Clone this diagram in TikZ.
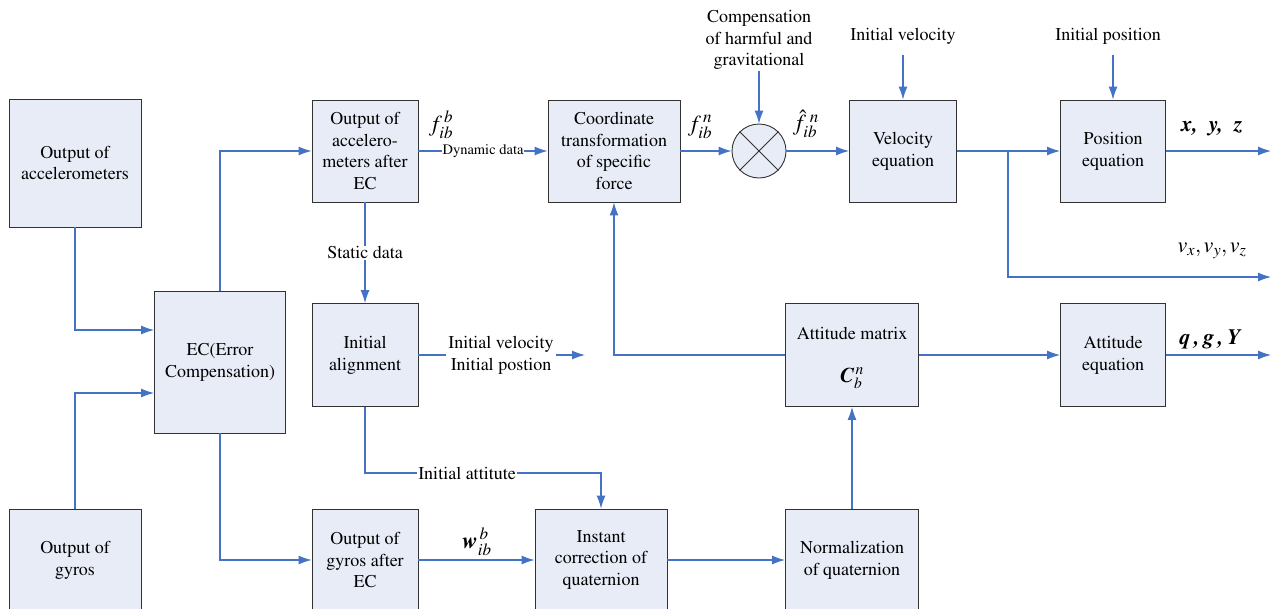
\documentclass[tikz,border=0pt]{standalone}
\usepackage{amsmath}
\usepackage[T1]{fontenc}
\usepackage{mathptmx}
\usetikzlibrary{arrows.meta}
\definecolor{ln}{RGB}{68,114,196}
\definecolor{bx}{RGB}{232,236,247}
\definecolor{bd}{RGB}{50,50,50}
\begin{document}
\begin{tikzpicture}[x=1pt,y=-1pt,
  box/.style={draw=bd, fill=bx, line width=0.9pt, inner sep=0pt, align=center,
    font=\fontsize{18}{21.7}\selectfont},
  conn/.style={draw=ln, line width=1.1pt, -{Latex[length=13pt,width=9pt]}},
  lbl/.style={font=\fontsize{18}{21.7}\selectfont, align=center, inner sep=1pt},
  mth/.style={font=\fontsize{23}{26}\selectfont, inner sep=0pt}]
\useasboundingbox (0,0) rectangle (1271,608);
% helper coordinates
\coordinate (h330) at (0,330);
\coordinate (h393) at (0,393);
\coordinate (h473) at (0,473);
\coordinate (h55) at (0,55);
\coordinate (j) at (1008,151);
\coordinate (iaend) at (585,355);
\coordinate (aeout) at (1271,355);
\coordinate (peout) at (1271,151);
\coordinate (vout) at (1271,277);
% boxes
\node[box, minimum width=132, minimum height=128] (acc) at (75,163) {Output of\\accelerometers};
\node[box, minimum width=132, minimum height=102] (gyr) at (75,560) {Output of\\gyros};
\node[box, minimum width=131, minimum height=142] (ec) at (220,362) {EC(Error\\Compensation)};
\node[box, minimum width=106, minimum height=102] (aec) at (365,151) {Output of\\accelero-\\meters after\\EC};
\node[box, minimum width=106, minimum height=103] (ia) at (365,355) {Initial\\alignment};
\node[box, minimum width=106, minimum height=102] (gec) at (365,560) {Output of\\gyros after\\EC};
\node[box, minimum width=132, minimum height=102] (ct) at (614,151) {Coordinate\\transformation\\of specific\\force};
\node[circle, draw=bd, fill=bx, line width=0.9pt, minimum size=54, inner sep=0pt] (sum) at (759,151) {};
\draw[bd, line width=0.9pt] (sum.north west) -- (sum.south east) (sum.north east) -- (sum.south west);
\node[box, minimum width=107, minimum height=102] (ve) at (903,151) {Velocity\\equation};
\node[box, minimum width=105, minimum height=102] (pe) at (1113,151) {Position\\equation};
\node[box, minimum width=133, minimum height=103] (am) at (852,355) {};
\node[lbl] (amt) at (852,333) {Attitude matrix};
\node[mth, font=\fontsize{21}{24}\selectfont] (amc) at (852,378) {$\text{\bfseries\itshape C}_{b}^{\,n}$};
\node[box, minimum width=105, minimum height=103] (ae) at (1113,355) {Attitude\\equation};
\node[box, minimum width=132, minimum height=102] (ic) at (601,560) {Instant\\correction of\\quaternion};
\node[box, minimum width=133, minimum height=102] (nq) at (852,560) {Normalization\\of quaternion};
% free labels
\node[lbl] (comp) at (759,40) {Compensation\\of harmful and\\gravitational};
\node[lbl] (iv) at (903,36) {Initial velocity};
\node[lbl] (ip) at (1108,36) {Initial position};
% connectors
\draw[conn] (acc.south) |- (ec.west |- h330);
\draw[conn] (gyr.north) |- (ec.west |- h393);
\draw[conn] (ec.north) |- (aec.west);
\draw[conn] (ec.south) |- (gec.west);
\draw[conn] (aec.south) -- node[lbl, fill=white] {Static data} (ia.north);
\draw[conn] (aec.east) -- node[lbl, fill=white, font=\fontsize{14.5}{17}\selectfont, inner sep=0.5pt] {Dynamic data} (ct.west);
\draw[conn] (ia.east) -- (iaend);
\node[lbl, fill=white, inner sep=2pt] (ivp) at (501,355) {Initial velocity\\Initial postion};
\draw[conn] (ia.south) |- (ic.north |- h473) -- (ic.north);
\node[lbl, fill=white] (iat) at (467,473) {Initial attitute};
\draw[conn] (gec.east) -- (ic.west);
\draw[conn] (ic.east) -- (nq.west);
\draw[conn] (nq.north) -- (am.south);
\draw[conn] (am.west) -| (ct.south);
\draw[conn] (am.east) -- (ae.west);
\draw[conn] (ae.east) -- (aeout);
\draw[conn] (ct.east) -- (sum.west);
\draw[conn] (comp.south) -- (sum.north);
\draw[conn] (sum.east) -- (ve.west);
\draw[conn] (ve.north |- h55) -- (ve.north);
\draw[conn] (pe.north |- h55) -- (pe.north);
\draw[conn] (ve.east) -- (pe.west);
\draw[conn] (j) |- (vout);
\draw[conn] (pe.east) -- (peout);
% math labels
\node[mth] (fb) at (441,125) {$f_{ib}^{\,b}$};
\node[mth] (fn) at (700,127) {$f_{ib}^{\,n}$};
\node[mth] (fh) at (806,124) {$\hat{f}_{ib}^{\;n}$};
\node[mth] (wb) at (477,542) {$\text{\bfseries\itshape w}_{ib}^{\,b}$};
\node[mth, font=\fontsize{22}{26}\selectfont] (xyz) at (1212,129) {\bfseries\itshape x,\ \ y,\ \ z};
\node[mth, font=\fontsize{22}{26}\selectfont] (vxyz) at (1212,251) {$v_{x}, v_{y}, v_{z}$};
\node[mth, font=\fontsize{22}{26}\selectfont] (qgy) at (1210,339) {\bfseries\itshape q\,,\,g\,,\,Y};
\end{tikzpicture}
\end{document}
